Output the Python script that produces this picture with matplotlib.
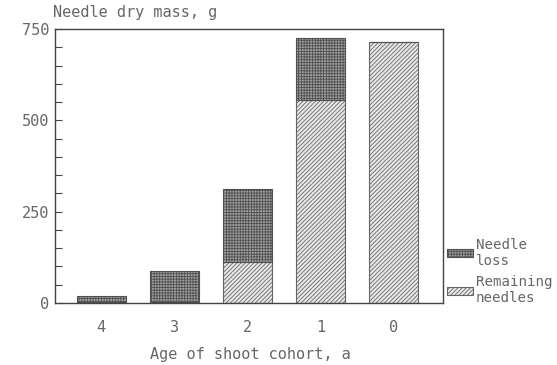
import matplotlib
matplotlib.use("Agg")
import matplotlib.pyplot as plt
from matplotlib.patches import Rectangle

categories = ["4", "3", "2", "1", "0"]
remaining = [2, 3, 113, 555, 714]
loss = [17, 85, 200, 170, 0]

plt.rcParams['hatch.linewidth'] = 0.6
plt.rcParams['font.family'] = ['DejaVu Sans Mono']
tc = '#666666'

fig = plt.figure(figsize=(5.57, 3.65), dpi=100)
ax = fig.add_axes([55/557, 1-303/365, 388/557, 274/365])

x = list(range(len(categories)))
w = 0.67
ax.bar(x, remaining, width=w, color='#e8e8e8', edgecolor='#666666', hatch='////////', linewidth=0.8)
ax.bar(x, loss, bottom=remaining, width=w, color='#a0a0a0', edgecolor='#505050', hatch='++++++', linewidth=0.8)

ax.set_xlim(-0.63, 4.67)
ax.set_ylim(0, 750)
ax.set_xticks(x)
ax.set_xticklabels(categories)
ax.set_yticks([0, 250, 500, 750])
ax.set_yticks(range(0, 751, 50), minor=True)
ax.tick_params(axis='y', which='both', direction='in', length=5, width=0.8, colors='#444444', labelcolor=tc, labelsize=11, pad=4)
ax.tick_params(axis='x', which='both', length=0, labelcolor=tc, labelsize=11, pad=12)
for s in ax.spines.values():
    s.set_color('#444444')
    s.set_linewidth(1.0)

fig.text(53/557, 1-12/365, "Needle dry mass, g", fontsize=11, color=tc, va='center', ha='left')
fig.text(250/557, 1-355/365, "Age of shoot cohort, a", fontsize=11, color=tc, va='center', ha='center')

h1 = Rectangle((0, 0), 1, 1, facecolor='#a0a0a0', edgecolor='#505050', hatch='++++++', linewidth=0.8)
h2 = Rectangle((0, 0), 1, 1, facecolor='#e8e8e8', edgecolor='#666666', hatch='////////', linewidth=0.8)
leg = fig.legend([h1, h2], ["Needle\nloss", "Remaining\nneedles"], loc='upper left',
                 bbox_to_anchor=(444/557, 1-235/365), frameon=False, fontsize=10.2,
                 handlelength=1.85, handleheight=0.5, handletextpad=0.2, labelspacing=0.5,
                 borderaxespad=0, borderpad=0.2)
for t in leg.get_texts():
    t.set_color(tc)

fig.savefig("out.png", dpi=100)
